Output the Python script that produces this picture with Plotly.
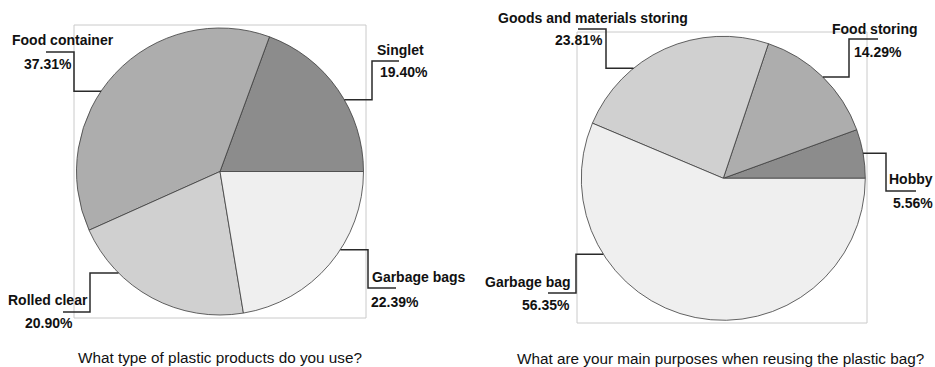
import math
import plotly.graph_objects as go

W, H = 935, 367

# ---------------- data ----------------
left_labels = ["Singlet", "Food container", "Rolled clear", "Garbage bags"]
left_values = [19.40, 37.31, 20.90, 22.39]
right_labels = ["Hobby", "Food storing", "Goods and materials storing", "Garbage bag"]
right_values = [5.56, 14.29, 23.81, 56.35]
left_title = "What type of plastic products do you use?"
right_title = "What are your main purposes when reusing the plastic bag?"

# ---------------- style / layout ----------------
slice_colors = ["#8c8c8c", "#adadad", "#d0d0d0", "#efefef"]
outline = "#3c3c3c"
leader_color = "#2a2a2a"
box_color = "#cacaca"
label_font = dict(family="Liberation Sans, Arial, sans-serif", size=14, color="#111111", weight="bold")
title_font = dict(family="Liberation Sans, Arial, sans-serif", size=15.3, color="#111111")

left_geo = dict(cx=220, cy=171.5, r=143.5, box=(74, 25, 366, 318), title=(219.5, 357))
right_geo = dict(cx=723.3, cy=178.3, r=142, box=(577, 32, 867, 323), title=(720, 358))

# per-label placement: anchor angle on pie rim, elbow x1, elbow y2, end x3,
# name text pos, pct text pos, x-anchor
left_place = [
    dict(ang=30, x1=372, y2=61, x3=399, name=(400.5, 50), pct=(404, 72), xa="center"),
    dict(ang=146, x1=74, y2=52, x3=46, name=(63, 40), pct=(47.5, 64), xa="center"),
    dict(ang=225, x1=90, y2=312, x3=63, name=(48, 300), pct=(48.5, 323), xa="center"),
    dict(ang=327, x1=368, y2=288, x3=396, name=(419, 277), pct=(395, 302), xa="center"),
]
right_place = [
    dict(ang=10.2, x1=886, y2=191, x3=916, name=(934.5, 179), pct=(934.5, 203), xa="right"),
    dict(ang=45.5, x1=849, y2=39, x3=878, name=(874.7, 29), pct=(877.5, 52), xa="center"),
    dict(ang=129.2, x1=606, y2=29, x3=578, name=(593, 18), pct=(579, 40), xa="center"),
    dict(ang=212.3, x1=576, y2=293, x3=548, name=(527.5, 282), pct=(546, 305), xa="center"),
]


def px(x):
    return x / W


def py(y):
    return 1 - y / H


fig = go.Figure()
shapes = []
annotations = []

for labels, values, geo, place in [
    (left_labels, left_values, left_geo, left_place),
    (right_labels, right_values, right_geo, right_place),
]:
    cx, cy, r = geo["cx"], geo["cy"], geo["r"]
    # first slice starts at 3 o'clock and slices run counterclockwise
    rot = 90 - 360 * values[0] / sum(values)
    fig.add_trace(go.Pie(
        labels=labels, values=values, sort=False, direction="counterclockwise",
        rotation=rot, textinfo="none", hoverinfo="label+percent", showlegend=False,
        marker=dict(colors=slice_colors, line=dict(color=outline, width=0.8)),
        domain=dict(x=[px(cx - r), px(cx + r)], y=[py(cy + r), py(cy - r)]),
    ))
    x0, y0, x1b, y1b = geo["box"]
    shapes.append(dict(type="rect", xref="paper", yref="paper", layer="below",
                       x0=px(x0), x1=px(x1b), y0=py(y1b), y1=py(y0),
                       line=dict(color=box_color, width=1)))
    for lab, val, p in zip(labels, values, place):
        a = math.radians(p["ang"])
        ex = cx + r * math.cos(a)
        ey = cy - r * math.sin(a)
        path = "M {} {} L {} {} L {} {} L {} {}".format(
            px(ex), py(ey), px(p["x1"]), py(ey), px(p["x1"]), py(p["y2"]),
            px(p["x3"]), py(p["y2"]))
        shapes.append(dict(type="path", xref="paper", yref="paper", path=path,
                           line=dict(color=leader_color, width=1.5)))
        annotations.append(dict(text=lab, x=px(p["name"][0]), y=py(p["name"][1]),
                                xref="paper", yref="paper", showarrow=False,
                                xanchor=p["xa"], yanchor="middle", font=label_font))
        annotations.append(dict(text=f"{val:.2f}%", x=px(p["pct"][0]), y=py(p["pct"][1]),
                                xref="paper", yref="paper", showarrow=False,
                                xanchor=p["xa"], yanchor="middle", font=label_font))
    annotations.append(dict(text=left_title if geo is left_geo else right_title,
                            x=px(geo["title"][0]), y=py(geo["title"][1]),
                            xref="paper", yref="paper", showarrow=False,
                            xanchor="center", yanchor="middle", font=title_font))

fig.update_layout(
    width=W, height=H, margin=dict(l=0, r=0, t=0, b=0),
    paper_bgcolor="white", plot_bgcolor="white",
    shapes=shapes, annotations=annotations,
)

fig.write_html("out.html")
